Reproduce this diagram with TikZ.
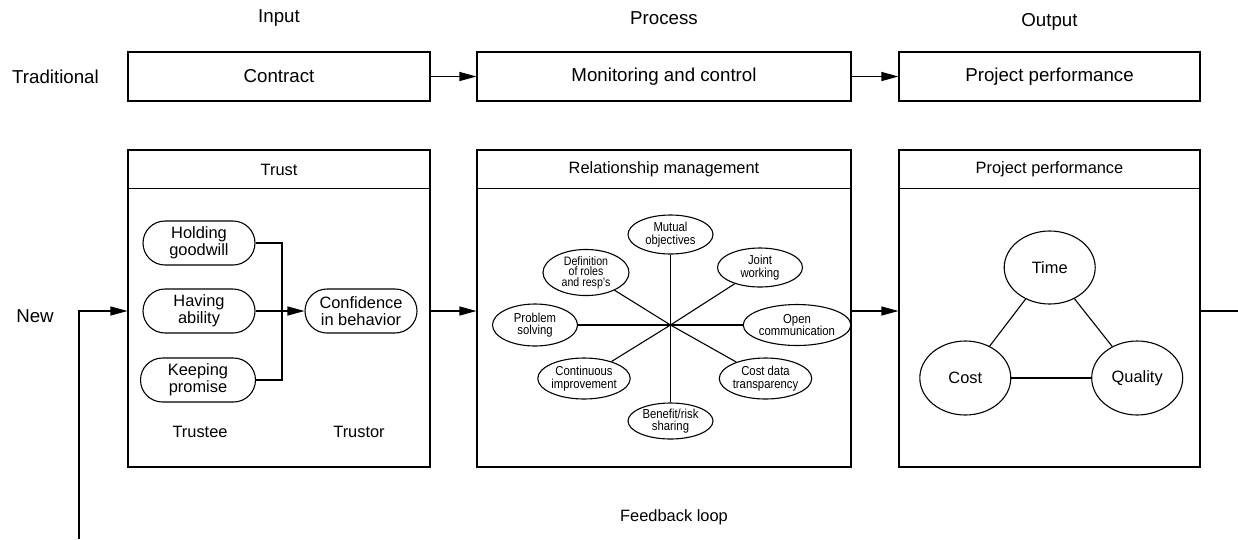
\documentclass[tikz,border=0pt]{standalone}
\usepackage{fontspec}
\setmainfont{Liberation Sans}
\newfontfamily\narrowfont[FakeStretch=0.87]{Liberation Sans}
\usetikzlibrary{arrows.meta,shapes.misc,shapes.geometric}
\begin{document}
\begin{tikzpicture}[x=1pt,y=-1pt,
  line width=1.1pt,
  big/.style={font=\fontsize{18.7}{20}\selectfont},
  small/.style={font=\fontsize{16.4}{16.7}\selectfont, align=center},
  tiny/.style={font=\narrowfont\fontsize{13}{12.3}\selectfont, align=center},
  box/.style={draw, rectangle, inner sep=0pt, big},
  frame/.style={draw, rectangle, inner sep=0pt},
  pill/.style={draw, rounded rectangle, inner sep=0pt, minimum width=112pt, minimum height=44pt, small},
  oval/.style={draw, ellipse, inner sep=0pt, minimum width=85pt, minimum height=39pt, tiny},
  bigoval/.style={draw, ellipse, inner sep=0pt, minimum width=91pt, minimum height=73pt, small},
  arr/.style={-{Triangle[length=17pt,width=9pt]}}
]
\useasboundingbox (0,0) rectangle (1238,539);

% column headings
\node[big] (hin) at (279,18) {Input};
\node[big] (hpr) at (664,18) {Process};
\node[big] (hout) at (1049.5,21.5) {Output};

% traditional row
\node[big] (trad) at (55.5,76.5) {Traditional};
\node[box, minimum width=302pt, minimum height=49pt] (contract) at (279,76.5) {Contract};
\node[box, minimum width=374pt, minimum height=49pt] (monitor) at (664,76.5) {Monitoring and control};
\node[box, minimum width=301pt, minimum height=49pt] (perf) at (1049.5,76.5) {Project performance};
\draw[arr] (contract) -- (monitor);
\draw[arr] (monitor) -- (perf);

% new row frames
\node[big] (new) at (35,316.5) {New};
\node[frame, minimum width=302pt, minimum height=317pt] (trust) at (279,308.5) {};
\node[frame, minimum width=374pt, minimum height=317pt] (rel) at (664,308.5) {};
\node[frame, minimum width=301pt, minimum height=317pt] (proj) at (1049.5,308.5) {};
\foreach \b in {trust,rel,proj}
  \draw ([yshift=-39.3pt]\b.north west) -- ([yshift=-39.3pt]\b.north east);
\node[small] (trusttitle) at (279,169.5) {Trust};
\node[small] (reltitle) at (664,169.5) {Relationship management};
\node[small] (projtitle) at (1049.5,169.5) {Project performance};

% row connectors
\coordinate (row) at (0,311);
\coordinate (fbstart) at (79,539);
\coordinate (fbcorner) at (79,311);
\coordinate (outend) at (1238,311);
\draw[arr] (fbstart) -- (fbcorner) -- (trust.west |- row);
\draw[arr] (trust.east |- row) -- (rel.west |- row);
\draw[arr] (rel.east |- row) -- (proj.west |- row);
\draw (proj.east |- row) -- (outend);
\node[small] (fb) at (674,517) {Feedback loop};

% trust contents
\node[pill] (hold) at (199,243) {Holding\\goodwill};
\node[pill] (abil) at (199,311) {Having\\ability};
\node[pill, minimum width=115pt] (keep) at (198,380) {Keeping\\promise};
\node[pill] (conf) at (361,311) {Confidence\\in behavior};
\coordinate (join) at (282,311);
\draw (hold.east) -| (join) |- (keep.east);
\draw[arr] (abil.east) -- (conf.west);
\node[small] (trustee) at (200,432) {Trustee};
\node[small] (trustor) at (359,432) {Trustor};

% relationship management star
\coordinate (hub) at (670.5,325);
\node[oval] (mutual) at (670.5,234.5) {Mutual\\objectives};
\node[oval, minimum width=86pt, minimum height=40pt, font=\narrowfont\fontsize{12.2}{10.6}\selectfont] (roles) at (586,272.5) {Definition\\of roles\\and resp’s};
\node[oval] (joint) at (760,267.5) {Joint\\working};
\node[oval, minimum height=42pt] (problem) at (535,325) {Problem\\solving};
\node[oval, minimum height=41pt] (open) at (797,325) {Open\\communication};
\node[oval, minimum width=84pt, minimum height=41pt] (contimp) at (584,378.5) {Continuous\\improvement};
\node[oval, minimum width=76pt, minimum height=41pt] (costdata) at (765.5,378.5) {Cost data\\transparency};
\node[oval, minimum height=36pt] (benefit) at (670.5,421) {Benefit/risk\\sharing};
\foreach \n in {mutual,roles,joint,problem,open,contimp,costdata,benefit}
  \draw (hub) -- (\n);

% project performance triangle
\node[bigoval] (time) at (1049.7,267.5) {Time};
\node[bigoval, minimum height=74pt] (cost) at (965.3,378) {Cost};
\node[bigoval, minimum height=74pt] (quality) at (1137.2,378) {Quality};
\draw (time) -- (cost);
\draw (time) -- (quality);
\draw (cost) -- (quality);
\end{tikzpicture}
\end{document}
